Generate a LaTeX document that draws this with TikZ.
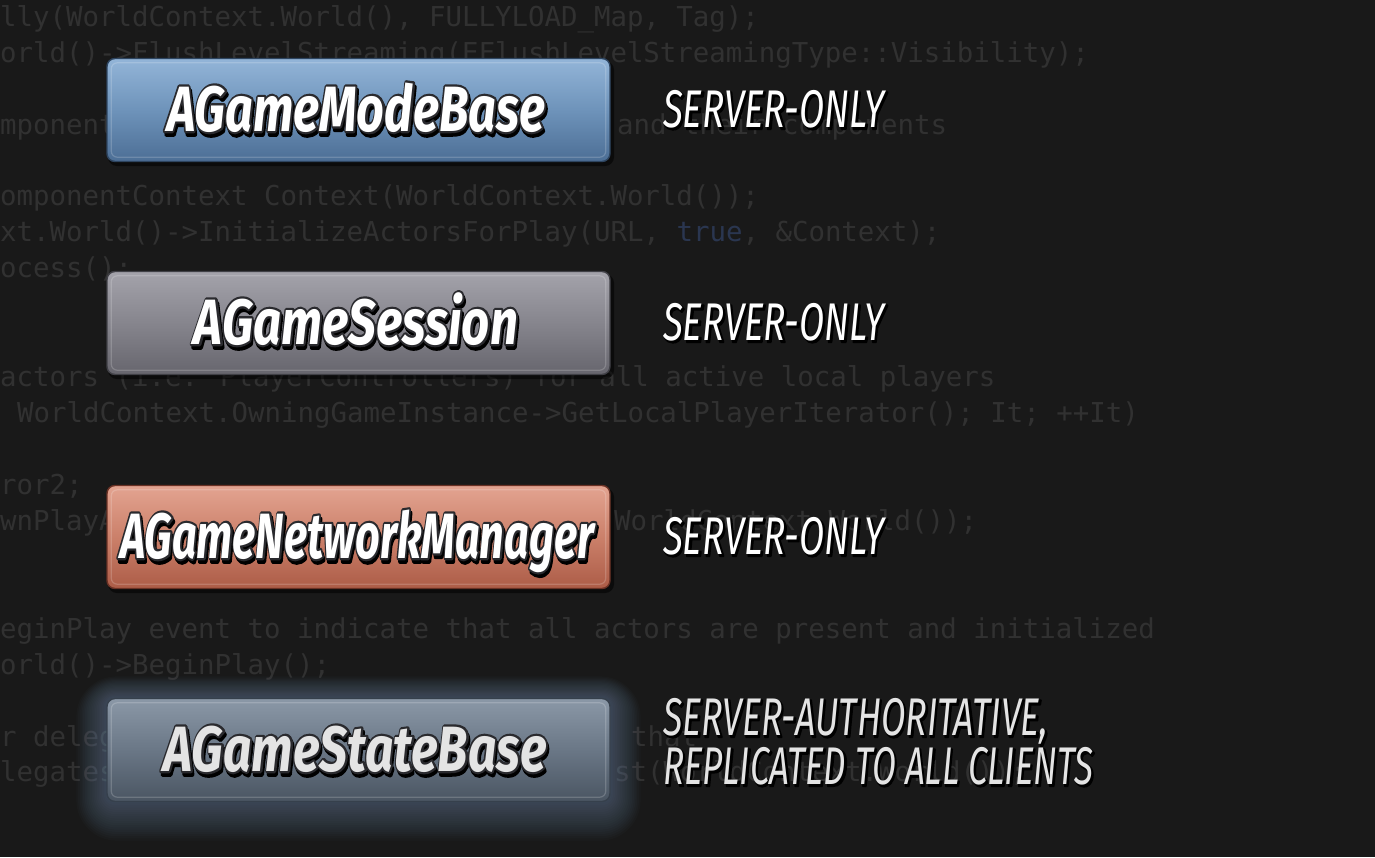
\documentclass[tikz,border=0pt]{standalone}
\usepackage{fontspec}
\newfontfamily\titlefont{Fira Sans}
\newfontfamily\codefont{DejaVu Sans Mono}
\usetikzlibrary{calc}

\definecolor{bg}{HTML}{191919}
\definecolor{codec}{HTML}{313131}
\definecolor{codeblue}{HTML}{2A3650}
\definecolor{b1top}{HTML}{93B5D8}
\definecolor{b1mid}{HTML}{6E93BA}
\definecolor{b1bot}{HTML}{4C6E95}
\definecolor{b1line}{HTML}{2E4560}
\definecolor{b2top}{HTML}{A4A3AB}
\definecolor{b2mid}{HTML}{86858D}
\definecolor{b2bot}{HTML}{66656D}
\definecolor{b2line}{HTML}{404046}
\definecolor{b3top}{HTML}{E3A491}
\definecolor{b3mid}{HTML}{CB806A}
\definecolor{b3bot}{HTML}{AC5C47}
\definecolor{b3line}{HTML}{6A3124}
\definecolor{b4top}{HTML}{8B98A7}
\definecolor{b4mid}{HTML}{6A7786}
\definecolor{b4bot}{HTML}{4A5562}
\definecolor{b4line}{HTML}{36404C}
\definecolor{glowc}{HTML}{7E9CC0}
\definecolor{toutline}{HTML}{2A2A2E}
\definecolor{lightgray}{HTML}{E4E4E4}

\newcommand\strokeon[1]{\special{pdf:literal direct 2 Tr #1 w 1 j}}
\newcommand\strokeoff{\special{pdf:literal direct 0 Tr}}
\newcommand\tfont{\titlefont\bfseries\itshape\fontsize{64}{70}\selectfont}
\newcommand\lfont{\titlefont\itshape\fontsize{53}{58}\selectfont}
\newcommand\fancytitle[4]{%
  \makebox[0pt][l]{\hspace*{1.5pt}\raisebox{-3.5pt}{\resizebox{#1}{\height}{\tfont\color{black}\strokeon{4.5}#4\strokeoff}}}%
  \makebox[0pt][l]{\resizebox{#1}{\height}{\tfont\color{#3}\strokeon{4.5}#4\strokeoff}}%
  \resizebox{#1}{\height}{\tfont\color{#2}#4}}
\newcommand\fancylabel[3]{%
  \makebox[0pt][l]{\hspace*{1.5pt}\raisebox{-2pt}{\resizebox{#1}{\height}{\lfont\color{black}\strokeon{2}#3\strokeoff}}}%
  \resizebox{#1}{\height}{\lfont\color{#2}#3}}

\tikzset{
  codeline/.style={anchor=base west, inner sep=0pt, text=codec,
    font=\codefont\fontsize{27.4}{30}\selectfont},
  classbox/.style={rectangle, rounded corners=8pt, line width=1.4pt,
    minimum width=503pt, minimum height=103pt, inner sep=0pt},
  titletext/.style={anchor=base, inner sep=0pt},
  labeltext/.style={anchor=base west, inner sep=0pt},
  bevel/.style={rounded corners=6pt, line width=1.2pt, opacity=0.18},
}

\begin{document}
\begin{tikzpicture}[x=1pt,y=-1pt]
\useasboundingbox (0,0) rectangle (1375,857);
\fill[bg] (0,0) rectangle (1375,857);

% faint source code in the background
\node[codeline] (c1) at (0,26) {lly(WorldContext.World(), FULLYLOAD\_Map, Tag);};
\node[codeline] (c2) at (0,62) {orld()->FlushLevelStreaming(EFlushLevelStreamingType::Visibility);};
\node[codeline] (c3a) at (0,134) {mponents};
\node[codeline] (c3b) at (617,134) {and their components};
\node[codeline] (c4) at (0,205) {omponentContext Context(WorldContext.World());};
\node[codeline] (c5) at (0,241) {xt.World()->InitializeActorsForPlay(URL, {\color{codeblue}true}, \&Context);};
\node[codeline] (c6) at (0,277) {ocess();};
\node[codeline] (c7) at (0,386) {actors (i.e. PlayerControllers) for all active local players};
\node[codeline] (c8) at (17,422) {WorldContext.OwningGameInstance->GetLocalPlayerIterator(); It; ++It)};
\node[codeline] (c9) at (0,494) {ror2;};
\node[codeline] (c10a) at (0,530) {wnPlayActor(URL.ToString(1),Error2,};
\node[codeline] (c10b) at (614,530) {WorldContext.World());};
\node[codeline] (c11) at (0,638) {eginPlay event to indicate that all actors are present and initialized};
\node[codeline] (c12) at (0,674) {orld()->BeginPlay();};
\node[codeline] (c13a) at (0,746) {r delegates};
\node[codeline] (c13b) at (631,746) {that};
\node[codeline] (c14a) at (0,781) {legates::PostLoadMapWithWorld.Broa};
\node[codeline] (c14b) at (614,781) {st(WorldContext.World());};

% glow around AGameStateBase
\foreach \i in {1,...,18}{
  \pgfmathsetmacro{\rr}{8+1.8*\i}
  \fill[glowc, opacity=0.026, rounded corners=\rr pt]
    ({107-1.7*\i},{698-1.2*\i}) rectangle ({610+1.7*\i},{801+2.2*\i});
}

% drop shadows
\foreach \cy in {110,323,537}{
  \fill[black, opacity=0.55, rounded corners=9pt]
    (108,{\cy-49}) rectangle (614,{\cy+56});
}

% boxes
\node[classbox, draw=b1line, top color=b1top, bottom color=b1bot, middle color=b1mid] (gm) at (358.5,110) {};
\node[classbox, draw=b2line, top color=b2top, bottom color=b2bot, middle color=b2mid] (gs) at (358.5,323) {};
\node[classbox, draw=b3line, top color=b3top, bottom color=b3bot, middle color=b3mid] (gn) at (358.5,537) {};
\node[classbox, draw=b4line, top color=b4top, bottom color=b4bot, middle color=b4mid] (gb) at (358.5,750) {};

% inner bevel highlights
\draw[bevel, white] ($(gm.south west)+(5,-5)$) rectangle ($(gm.north east)+(-5,5)$);
\draw[bevel, white] ($(gs.south west)+(5,-5)$) rectangle ($(gs.north east)+(-5,5)$);
\draw[bevel, white] ($(gn.south west)+(5,-5)$) rectangle ($(gn.north east)+(-5,5)$);
\draw[bevel, white] ($(gb.south west)+(5,-5)$) rectangle ($(gb.north east)+(-5,5)$);

% titles
\node[titletext] (tgm) at (356,131) {\fancytitle{378pt}{white}{toutline}{AGameModeBase}};
\node[titletext] (tgs) at (356,344) {\fancytitle{324pt}{white}{toutline}{AGameSession}};
\node[titletext] (tgn) at (357,558) {\fancytitle{474pt}{white}{toutline}{AGameNetworkManager}};
\node[titletext] (tgb) at (355,771) {\fancytitle{383pt}{lightgray}{toutline}{AGameStateBase}};

% labels
\node[labeltext] (lgm) at (663,127) {\fancylabel{221pt}{white}{SERVER-ONLY}};
\node[labeltext] (lgs) at (663,340) {\fancylabel{221pt}{white}{SERVER-ONLY}};
\node[labeltext] (lgn) at (663,554) {\fancylabel{221pt}{white}{SERVER-ONLY}};
\node[labeltext] (lgb1) at (663,735) {\fancylabel{385pt}{lightgray}{SERVER-AUTHORITATIVE,}};
\node[labeltext] (lgb2) at (663,784) {\fancylabel{430pt}{lightgray}{REPLICATED TO ALL CLIENTS}};
\end{tikzpicture}
\end{document}
